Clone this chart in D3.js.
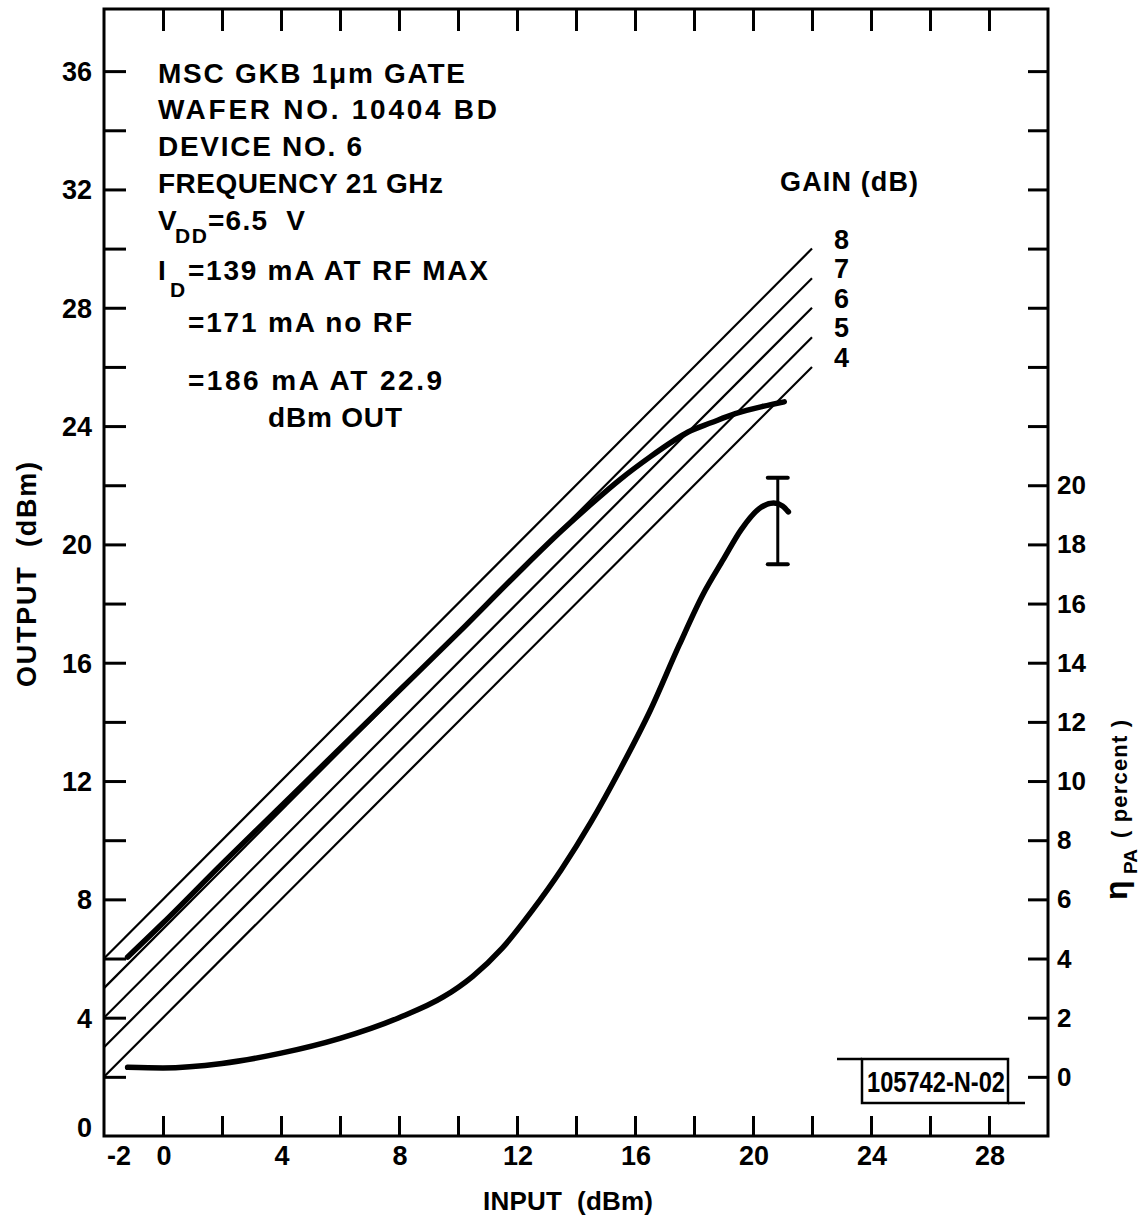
<!DOCTYPE html>
<html><head><meta charset="utf-8">
<script src="https://cdn.jsdelivr.net/npm/d3@7"></script>
<style>
body{margin:0;background:#fff}
svg{display:block}
text{font-family:"Liberation Sans",Arial,sans-serif;font-weight:bold;fill:#000;white-space:pre}
</style>
</head><body>
<svg id="chart" width="1148" height="1218"></svg>
<script>
// ---------------- data ----------------
const gains = [4, 5, 6, 7, 8];                 // constant-gain reference lines (dB)
const gainLineInput = [-2, 22];                // input range of the gain lines (dBm)
// measured output power vs input power (dBm)
const outputInput  = [-1.2, 0, 2, 4, 6, 8, 10, 12, 13.5, 14.5, 15.5, 16.5, 17.3, 17.8, 18.6, 19.4, 20.3, 21.06];
const outputValues = [6.05, 7.2, 9.2, 11.15, 13.1, 15.05, 17.0, 19.0, 20.45, 21.35, 22.2, 22.95, 23.5, 23.8, 24.12, 24.42, 24.66, 24.82];
// power-added efficiency vs input power (percent)
const etaInput  = [-1.2, 0, 2, 4, 6, 8, 9.5, 10.5, 11.5, 12.5, 13.5, 14.5, 15.5, 16.5, 17.5, 18.3, 19.0, 19.6, 20.2, 20.7, 21.0, 21.2];
const etaValues = [0.32, 0.3, 0.45, 0.8, 1.3, 2.0, 2.7, 3.4, 4.35, 5.6, 7.0, 8.6, 10.4, 12.35, 14.6, 16.3, 17.5, 18.5, 19.2, 19.4, 19.3, 19.1];
const errorInput = 20.84, errorLow = 17.33, errorHigh = 20.25;
// ticks
const xTicks = d3.range(0, 29, 2);
const xTickLabels = [-2, 0, 4, 8, 12, 16, 20, 24, 28];
const yTicks = d3.range(2, 37, 2);
const yTickLabels = [0, 4, 8, 12, 16, 20, 24, 28, 32, 36];
const rTickLabels = [0, 2, 4, 6, 8, 10, 12, 14, 16, 18, 20];
const noteLines = ["MSC GKB 1\u03BCm GATE", "WAFER NO. 10404 BD", "DEVICE NO. 6", "FREQUENCY 21 GHz"];

// ---------------- scales ----------------
const svg = d3.select("#chart");
const x = d3.scaleLinear([-2, 30], [104, 1048]);
const y = d3.scaleLinear([0, 38.1], [1136, 9]);
const yR = d3.scaleLinear([-2, 36.1], [1136, 9]);   // eta axis (percent)

// ---------------- frame & ticks ----------------
svg.append("rect").attr("x", x(-2)).attr("y", y(38.1))
  .attr("width", x(30) - x(-2)).attr("height", y(0) - y(38.1))
  .attr("fill", "none").attr("stroke", "#000").attr("stroke-width", 3);

function tickAxis(axis, tf) {
  const g = svg.append("g").attr("transform", tf).call(axis);
  g.select(".domain").remove();
  g.selectAll("line").attr("stroke", "#000").attr("stroke-width", 3);
  g.selectAll("text").remove();
}
tickAxis(d3.axisBottom(x).tickValues(xTicks).tickSize(-20).tickFormat(""), `translate(0,${y(0)})`);
tickAxis(d3.axisTop(x).tickValues(xTicks).tickSize(-22).tickFormat(""), `translate(0,${y(38.1)})`);
tickAxis(d3.axisLeft(y).tickValues(yTicks).tickSize(-22).tickFormat(""), `translate(${x(-2)},0)`);
tickAxis(d3.axisRight(y).tickValues(yTicks).tickSize(-20).tickFormat(""), `translate(${x(30)},0)`);

// tick labels
svg.append("g").selectAll("text").data(xTickLabels).join("text")
  .attr("x", d => x(d) + (d === -2 ? 15 : 1)).attr("y", 1165)
  .attr("text-anchor", "middle").attr("font-size", 27).text(d => d);
svg.append("g").selectAll("text").data(yTickLabels).join("text")
  .attr("x", 92).attr("y", d => y(d) + 10 - (d === 0 ? 9 : 0))
  .attr("text-anchor", "end").attr("font-size", 27).text(d => d);
svg.append("g").selectAll("text").data(rTickLabels).join("text")
  .attr("x", 1057).attr("y", d => yR(d) + 9)
  .attr("text-anchor", "start").attr("font-size", 26).text(d => d);

// axis titles
svg.append("text").attr("x", 483).attr("y", 1210).attr("font-size", 26)
  .attr("textLength", 170).attr("lengthAdjust", "spacing").text("INPUT  (dBm)");
svg.append("text").attr("transform", "translate(36,687) rotate(-90)").attr("font-size", 27)
  .attr("textLength", 225).attr("lengthAdjust", "spacing").text("OUTPUT  (dBm)");
const eta = svg.append("g").attr("transform", "translate(1127,900) rotate(-90)");
eta.append("text").attr("x", 0).attr("y", 0).attr("font-size", 32).attr("font-weight", "normal").text("\u03B7");
eta.append("text").attr("x", 26).attr("y", 10).attr("font-size", 19).text("PA");
eta.append("text").attr("x", 62).attr("y", 0).attr("font-size", 22)
  .attr("textLength", 118).attr("lengthAdjust", "spacing").text("( percent )");

// ---------------- gain lines ----------------
const line = d3.line().x(d => x(d[0])).y(d => y(d[1]));
svg.append("g").selectAll("path").data(gains).join("path")
  .attr("d", g => line(gainLineInput.map(v => [v, v + g])))
  .attr("fill", "none").attr("stroke", "#000").attr("stroke-width", 2.2);
svg.append("g").selectAll("text").data(gains).join("text")
  .attr("x", x(gainLineInput[1]) + 22).attr("y", g => y(gainLineInput[1] + g))
  .attr("font-size", 27).text(g => g);
svg.append("text").attr("x", 780).attr("y", 191).attr("font-size", 27)
  .attr("textLength", 138).attr("lengthAdjust", "spacing").text("GAIN (dB)");

// ---------------- measured curves ----------------
const smooth = d3.line().x(d => x(d[0])).y(d => d[1]).curve(d3.curveMonotoneX);
svg.append("path")
  .attr("d", smooth(outputInput.map((v, i) => [v, y(outputValues[i])])))
  .attr("fill", "none").attr("stroke", "#000").attr("stroke-width", 5.5)
  .attr("stroke-linecap", "round").attr("stroke-linejoin", "round");
svg.append("path")
  .attr("d", smooth(etaInput.map((v, i) => [v, yR(etaValues[i])])))
  .attr("fill", "none").attr("stroke", "#000").attr("stroke-width", 5.5)
  .attr("stroke-linecap", "round").attr("stroke-linejoin", "round");

// error bar
const eb = svg.append("g").attr("stroke", "#000");
eb.append("line").attr("x1", x(errorInput)).attr("x2", x(errorInput))
  .attr("y1", yR(errorHigh)).attr("y2", yR(errorLow)).attr("stroke-width", 3);
[errorHigh, errorLow].forEach(v => eb.append("line")
  .attr("x1", x(errorInput) - 10).attr("x2", x(errorInput) + 10)
  .attr("y1", yR(v)).attr("y2", yR(v)).attr("stroke-width", 4).attr("stroke-linecap", "round"));

// ---------------- annotations ----------------
const noteX = 158;
const noteBase = [83, 119, 156, 193];
const noteLen = [307, 339, 204, 285];
noteLines.forEach((t, i) => svg.append("text").attr("x", noteX).attr("y", noteBase[i])
  .attr("font-size", 28).attr("textLength", noteLen[i]).attr("lengthAdjust", "spacing").text(t));
// V_DD line
svg.append("text").attr("x", 158).attr("y", 230).attr("font-size", 28).text("V");
svg.append("text").attr("x", 175).attr("y", 243).attr("font-size", 21).attr("textLength", 32).text("DD");
svg.append("text").attr("x", 208).attr("y", 230).attr("font-size", 28)
  .attr("textLength", 97).attr("lengthAdjust", "spacing").text("=6.5  V");
// I_D lines
svg.append("text").attr("x", 158).attr("y", 280).attr("font-size", 28).text("I");
svg.append("text").attr("x", 170).attr("y", 297).attr("font-size", 21).text("D");
svg.append("text").attr("x", 188).attr("y", 280).attr("font-size", 28)
  .attr("textLength", 300).attr("lengthAdjust", "spacing").text("=139 mA AT RF MAX");
svg.append("text").attr("x", 188).attr("y", 332).attr("font-size", 28)
  .attr("textLength", 224).attr("lengthAdjust", "spacing").text("=171 mA no RF");
svg.append("text").attr("x", 188).attr("y", 390).attr("font-size", 28)
  .attr("textLength", 254).attr("lengthAdjust", "spacing").text("=186 mA AT 22.9");
svg.append("text").attr("x", 268).attr("y", 427).attr("font-size", 28)
  .attr("textLength", 134).attr("lengthAdjust", "spacing").text("dBm OUT");

// figure number box
const box = svg.append("g").attr("stroke", "#000").attr("stroke-width", 2.5).attr("fill", "none");
box.append("rect").attr("x", 862).attr("y", 1059).attr("width", 146).attr("height", 44);
box.append("line").attr("x1", 837).attr("x2", 862).attr("y1", 1059).attr("y2", 1059);
box.append("line").attr("x1", 1008).attr("x2", 1025).attr("y1", 1103).attr("y2", 1103);
svg.append("text").attr("x", 867).attr("y", 1092).attr("font-size", 29).attr("font-weight", "normal")
  .attr("font-family", "'Liberation Sans Narrow','Liberation Sans',sans-serif")
  .attr("textLength", 138).attr("lengthAdjust", "spacingAndGlyphs").text("105742-N-02");
</script>
</body></html>
